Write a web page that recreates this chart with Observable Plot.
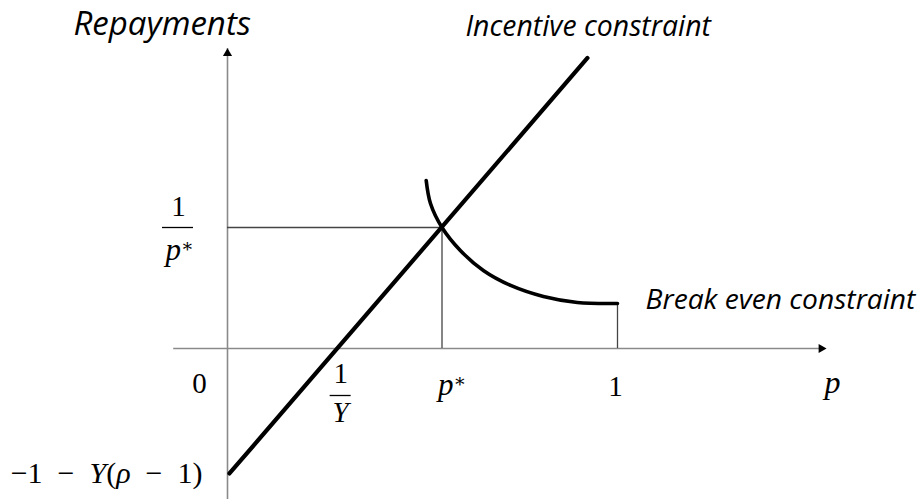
<!DOCTYPE html>
<html><head><meta charset="utf-8">
<script src="https://cdn.jsdelivr.net/npm/d3@7"></script>
<script src="https://cdn.jsdelivr.net/npm/@observablehq/plot@0.6"></script>
<style>body{margin:0;background:#fff} svg{display:block;background:#fff}</style>
</head><body><div id="chart"></div>
<script>
// ---- values (p on x, repayments on y) ----
const pStar = 0.55;          // p*
const invY = 0.285;          // 1/Y
const yStar = 1.82;          // 1/p*
const yIntercept = -1.88;    // -1 - Y(rho - 1)
const xExtent = [-0.138, 1.52];
const yExtent = [-2.4, 4.513];

const incentiveP = [0.005, 0.923];
const incentiveR = [-1.88, 4.37];

const breakEvenP = [0.5095, 0.5205, 0.55, 0.597, 0.656, 0.726, 0.810, 0.897, 1.0];
const breakEvenR = [2.527, 2.181, 1.82, 1.474, 1.173, 0.948, 0.782, 0.692, 0.677];

const curveLabels = ["Incentive constraint", "Break even constraint"];
const axisTitles = ["Repayments", "p"];
const xTickLabels = ["0", "1", "Y", "p*", "1"];     // 0, 1/Y (num, den), p*, 1
const yTickLabels = ["1", "p*", "−1 − Y(ρ − 1)"];  // 1/p* (num, den), intercept

const incentive = incentiveP.map((p, i) => ({p, r: incentiveR[i]}));
const breakEven = breakEvenP.map((p, i) => ({p, r: breakEvenR[i]}));

const sans = "'Open Sans', Lato, sans-serif";
const serif = "'Liberation Serif', 'DejaVu Serif', serif";
const mathSize = 29;

const chart = Plot.plot({
  width: 917,
  height: 499,
  margin: 0,
  x: {domain: [0, 1], range: [227, 617], axis: null},
  y: {domain: [0, yStar], range: [348, 227], axis: null},
  marks: [
    // axes
    Plot.ruleX([0], {y1: yExtent[0], y2: yExtent[1], stroke: "#8a8a8a", strokeWidth: 1.6}),
    Plot.ruleY([0], {x1: xExtent[0], x2: xExtent[1], stroke: "#8a8a8a", strokeWidth: 1.6}),
    Plot.dot([0], {x: 0, y: yExtent[1], dy: 5, symbol: "triangle", r: 3.4, fill: "black", stroke: null}),
    Plot.dot([0], {x: xExtent[1], y: 0, dx: 1, symbol: "triangle", rotate: 90, r: 3.4, fill: "black", stroke: null}),
    // guide lines
    Plot.ruleY([yStar], {x1: 0, x2: pStar, stroke: "#444", strokeWidth: 1.3}),
    Plot.ruleX([pStar], {y1: 0, y2: yStar, stroke: "#444", strokeWidth: 1.3}),
    Plot.ruleX([1], {y1: 0, y2: breakEvenR[breakEvenR.length - 1], stroke: "#444", strokeWidth: 1.3}),
    // curves
    Plot.line(breakEven, {x: "p", y: "r", curve: "catmull-rom", stroke: "black", strokeWidth: 3.6}),
    Plot.line(incentive, {x: "p", y: "r", stroke: "black", strokeWidth: 4.2, strokeLinecap: "round"}),
    // x tick labels
    Plot.text([xTickLabels[0]], {x: 0, y: 0, dx: -28, dy: 35, fontFamily: serif, fontSize: mathSize, fill: "black"}),
    Plot.text([xTickLabels[1]], {x: invY, y: 0, dx: 2, dy: 25, fontFamily: serif, fontSize: mathSize, fill: "black"}),
    Plot.ruleY([0], {x1: invY, x2: invY, dy: 47, dx: 2, insetLeft: -10.5, insetRight: -10.5, stroke: "black", strokeWidth: 1.3}),
    Plot.text([xTickLabels[2]], {x: invY, y: 0, dx: 2, dy: 64, fontFamily: serif, fontStyle: "italic", fontSize: mathSize, fill: "black"}),
    Plot.text([xTickLabels[3]], {x: pStar, y: 0, dx: 10, dy: 37, fontFamily: serif, fontStyle: "italic", fontSize: mathSize + 2, fill: "black"}),
    Plot.text([xTickLabels[4]], {x: 1, y: 0, dx: -2, dy: 38, fontFamily: serif, fontSize: mathSize, fill: "black"}),
    // y tick labels
    Plot.text([yTickLabels[0]], {x: 0, y: yStar, dx: -49, dy: -21, fontFamily: serif, fontSize: mathSize, fill: "black"}),
    Plot.ruleY([yStar], {x1: 0, x2: 0, dx: -49.5, insetLeft: -15.5, insetRight: -15.5, stroke: "black", strokeWidth: 1.3}),
    Plot.text([yTickLabels[1]], {x: 0, y: yStar, dx: -48, dy: 23, fontFamily: serif, fontStyle: "italic", fontSize: mathSize + 2, fill: "black"}),
    Plot.text([yTickLabels[2]], {x: 0, y: yIntercept, dx: -25, dy: 0, textAnchor: "end", fontFamily: serif, fontSize: mathSize + 1, fill: "black"}),
    // titles and curve labels
    Plot.text([axisTitles[0]], {x: -0.395, y: 4.872, textAnchor: "start", fontFamily: sans, fontStyle: "italic", fontSize: 33, fill: "black"}),
    Plot.text([axisTitles[1]], {x: 1.551, y: -0.51, fontFamily: serif, fontStyle: "italic", fontSize: 32, fill: "black"}),
    Plot.text([curveLabels[0]], {x: 0.61, y: 4.83, textAnchor: "start", fontFamily: sans, fontStyle: "italic", fontSize: 28.4, fill: "black"}),
    Plot.text([curveLabels[1]], {x: 1.072, y: 0.737, textAnchor: "start", fontFamily: sans, fontStyle: "italic", fontSize: 28.2, fill: "black"})
  ]
});

// typographic touch-ups: superscript star, italic math letters, math spacing
chart.querySelectorAll("text").forEach(t => {
  const s = t.textContent;
  if (s === "p*") {
    t.innerHTML = 'p<tspan dy="-0.45em" font-size="0.6em" font-style="normal">∗</tspan>';
  } else if (s === "−1 − Y(ρ − 1)") {
    t.innerHTML = '−1\u2002−\u2002<tspan font-style="italic">Y</tspan>(<tspan font-style="italic">ρ</tspan>\u2002−\u20021)';
  }
});
document.getElementById("chart").appendChild(chart);
</script>
</body></html>
